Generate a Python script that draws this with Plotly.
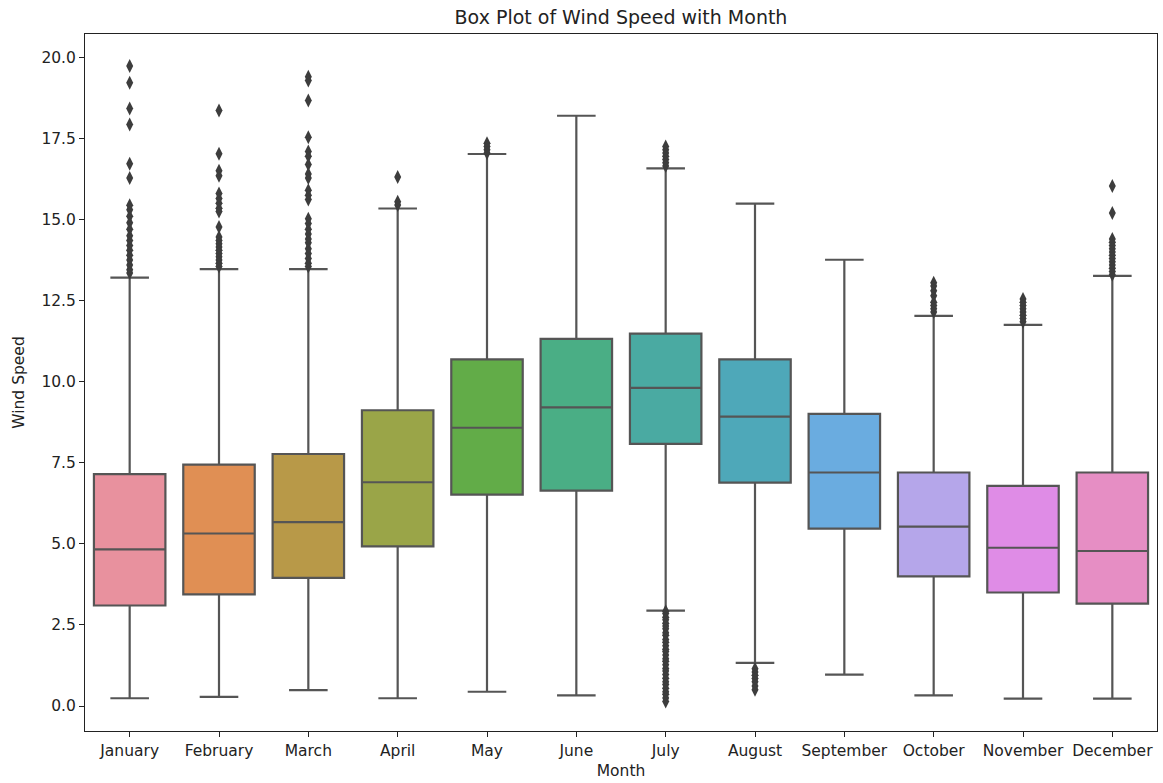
import plotly.graph_objects as go

# Monthly wind speed summary statistics
months = ["January", "February", "March", "April", "May", "June",
          "July", "August", "September", "October", "November", "December"]
q1 = [3.10, 3.44, 3.95, 4.92, 6.52, 6.64, 8.08, 6.89, 5.47, 4.00, 3.50, 3.16]
median = [4.83, 5.32, 5.67, 6.90, 8.58, 9.21, 9.81, 8.92, 7.20, 5.53, 4.88, 4.78]
q3 = [7.15, 7.44, 7.77, 9.12, 10.69, 11.32, 11.48, 10.69, 9.01, 7.20, 6.79, 7.20]
lower_whisker = [0.24, 0.28, 0.49, 0.24, 0.44, 0.33, 2.94, 1.33, 0.97, 0.33, 0.23, 0.23]
upper_whisker = [13.21, 13.47, 13.47, 15.34, 17.02, 18.20, 16.58, 15.49, 13.76, 12.03, 11.75, 13.26]

# Outlying observations per month
out_jan = [19.73, 19.22, 18.42, 17.93, 16.72, 16.28, 15.44, 15.30, 15.10, 14.90,
           14.70, 14.50, 14.35, 14.20, 14.05, 13.90, 13.75, 13.60, 13.45, 13.35]
out_feb = [18.36, 17.03, 16.50, 16.35, 15.80, 15.65, 15.50, 15.35, 15.25, 14.77,
           14.46, 14.35, 14.25, 14.15, 14.05, 13.95, 13.85, 13.75, 13.65, 13.55]
out_mar = [19.40, 19.29, 18.67, 17.54, 17.10, 16.95, 16.70, 16.40, 16.28, 15.90,
           15.75, 15.62, 15.02, 14.88, 14.70, 14.55, 14.40, 14.28, 14.10, 13.95,
           13.80, 13.65, 13.55]
out_apr = [16.31, 15.55, 15.45]
out_may = [17.35, 17.25, 17.15, 17.05]
out_jun = []
out_jul = [17.25, 17.15, 17.05, 16.95, 16.85, 16.75, 16.65,
           2.92, 2.85, 2.74, 2.66, 2.55, 2.47, 2.38, 2.26, 2.18, 2.05, 1.97,
           1.86, 1.75, 1.68, 1.57, 1.46, 1.38, 1.27, 1.16, 1.08, 0.97, 0.86,
           0.75, 0.66, 0.55, 0.44, 0.36, 0.25, 0.14]
out_aug = [1.15, 1.05, 0.95, 0.85, 0.75, 0.62, 0.50]
out_sep = []
out_oct = [13.05, 12.95, 12.80, 12.65, 12.45, 12.35, 12.25, 12.15]
out_nov = [12.55, 12.45, 12.35, 12.25, 12.15, 12.05, 11.95, 11.85]
out_dec = [16.03, 15.20, 14.40, 14.30, 14.20, 14.10, 14.00, 13.90, 13.80,
           13.70, 13.60, 13.50, 13.40, 13.30]

outliers = [out_jan, out_feb, out_mar, out_apr, out_may, out_jun,
            out_jul, out_aug, out_sep, out_oct, out_nov, out_dec]

box_colors = ["#e8919e", "#e08f54", "#b89948", "#9aa548", "#62ac48", "#4aae85",
              "#4aaaa2", "#4ea8b9", "#6aace0", "#b5a6ea", "#df8ce6", "#e68ec4"]

edge = "#555555"
font = "DejaVu Sans"
text_color = "#222222"

fig = go.Figure()

for i, m in enumerate(months):
    fig.add_trace(go.Box(
        x=[m], q1=[q1[i]], median=[median[i]], q3=[q3[i]],
        lowerfence=[lower_whisker[i]], upperfence=[upper_whisker[i]],
        boxpoints=False, width=0.8, whiskerwidth=0.54,
        fillcolor=box_colors[i], line=dict(color=edge, width=2.2),
        name=m, showlegend=False,
    ))

# Outlier markers
ox, oy = [], []
for m, vals in zip(months, outliers):
    ox += [m] * len(vals)
    oy += vals
fig.add_trace(go.Scatter(
    x=ox, y=oy, mode="markers", showlegend=False,
    marker=dict(symbol="diamond-tall", size=10, color="#3d3d3d",
                line=dict(width=0)),
))

axis_common = dict(
    showline=True, linecolor=text_color, linewidth=1, mirror=True,
    ticks="outside", ticklen=5, tickwidth=1, tickcolor=text_color,
    showgrid=False, zeroline=False,
    tickfont=dict(family=font, size=15.5, color=text_color),
)

fig.update_layout(
    width=1163, height=783,
    margin=dict(l=85, r=6, t=34, b=52),
    paper_bgcolor="white", plot_bgcolor="white",
    boxmode="overlay",
    title=dict(text="Box Plot of Wind Speed with Month", x=0.5, xref="paper",
               y=0.978, yref="container", xanchor="center", yanchor="middle",
               font=dict(family=font, size=19, color=text_color)),
    xaxis=dict(axis_common, type="category", categoryorder="array",
               categoryarray=months, range=[-0.5, 11.5],
               title=dict(text="Month", standoff=6,
                          font=dict(family=font, size=15.5, color=text_color))),
    yaxis=dict(axis_common, range=[-0.77, 20.72],
               tickvals=[0, 2.5, 5, 7.5, 10, 12.5, 15, 17.5, 20],
               tickformat=".1f",
               title=dict(text="Wind Speed", standoff=12,
                          font=dict(family=font, size=15.5, color=text_color))),
)

fig.write_html("out.html")
